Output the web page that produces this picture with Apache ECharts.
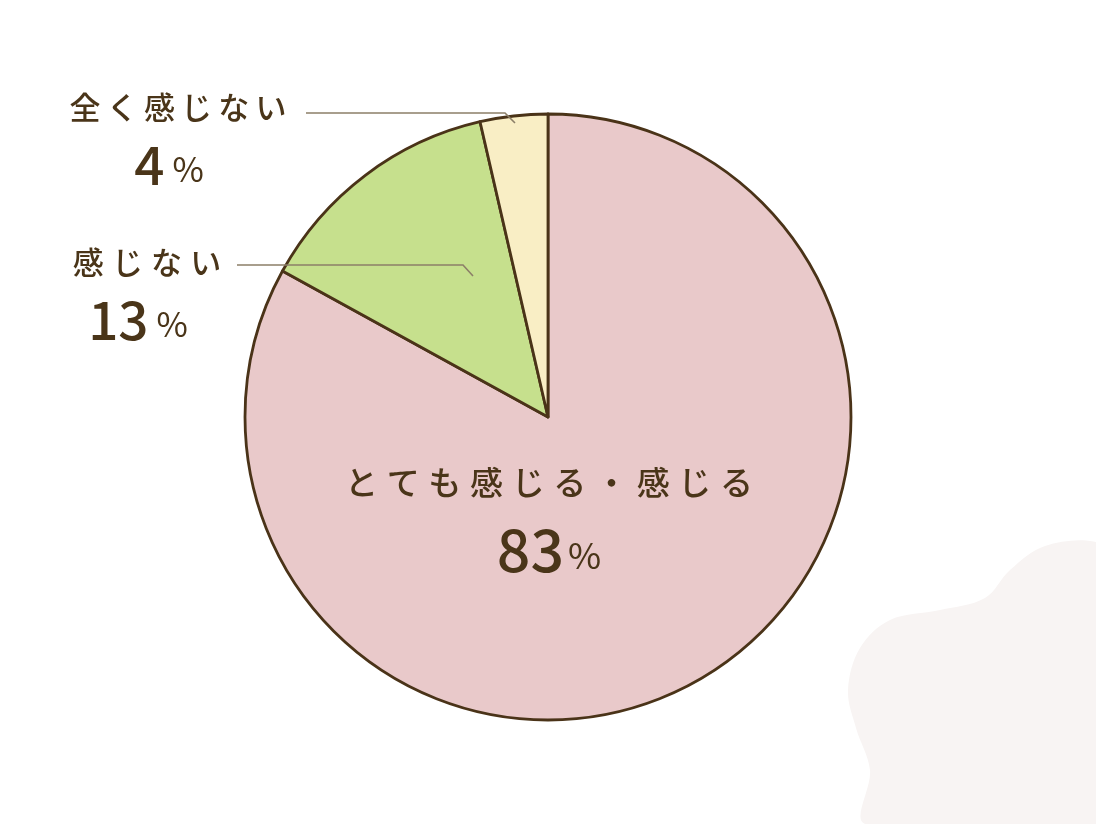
<!DOCTYPE html>
<html>
<head>
<meta charset="utf-8">
<style>
  html, body { margin: 0; padding: 0; background: #ffffff; }
  #chart { width: 1096px; height: 824px; }
</style>
<script src="https://cdn.jsdelivr.net/npm/echarts@6/dist/echarts.min.js"></script>
</head>
<body>
<div id="chart"></div>
<script>
// ---- data ----
const categories = ['とても感じる・感じる', '感じない', '全く感じない'];
const values = [83.0, 13.4, 3.6];          // slice sizes
const labelValues = [83, 13, 4];           // percentages printed on the chart
const sliceColors = ['#e9c9ca', '#c6e08d', '#f9eec5'];

// ---- style ----
const TEXT = '#4a3519';
const FONT = '"Noto Sans CJK JP", "Noto Sans", sans-serif';
const CENTER = [548, 417];
const RADIUS = 303;

const gaps = ['\u2009\u200a', '\u2009\u200a', '\u2009'];
function spaced(s, g) { return s.split('').join(g); }

// label placements (layout only)
const labelPlaces = [
  { x: 549, y: 516, line: null },
  { x: 147, y: 291, line: [[473, 276], [463, 265], [237, 265]] },
  { x: 178, y: 136, line: [[515, 123], [505, 113], [306, 113]] }
];

const chart = echarts.init(document.getElementById('chart'), null, { renderer: 'canvas' });

const sliceData = categories.map((c, i) => ({
  name: c,
  value: values[i],
  itemStyle: { color: sliceColors[i] }
}));

const labelData = categories.map((c, i) => ({
  name: c,
  value: values[i],
  label: {
    position: i === 0 ? 'inside' : 'outside',
    formatter: (i === 0 ? '{nameL|' : '{name|') + spaced(c, gaps[i]) + '}\n' +
               (i === 0 ? '{valL|' : '{val|') + labelValues[i] + '}' +
               (i === 0 ? '{pctL|%}' : '{pct|%}')
  },
  labelLine: { show: i !== 0 }
}));

const richBase = { color: TEXT, fontFamily: FONT, fontWeight: 400 };

chart.setOption({
  animation: false,
  backgroundColor: '#ffffff',
  graphic: [{
    type: 'polygon',
    z: 0,
    shape: {
      points: [
        [866, 824], [870, 770], [856, 728], [848, 690], [860, 648], [890, 620],
        [940, 610], [985, 598], [1010, 570], [1045, 546], [1096, 542],
        [1110, 560], [1110, 824]
      ],
      smooth: 0.35
    },
    style: { fill: '#f8f4f3' }
  }],
  series: [{
    type: 'pie',
    z: 2,
    center: CENTER,
    radius: [0, RADIUS],
    startAngle: 90,
    clockwise: true,
    data: sliceData,
    silent: true,
    itemStyle: { borderColor: '#4a3318', borderWidth: 2.8 },
    emphasis: { disabled: true },
    label: { show: false },
    labelLine: { show: false }
  }, {
    type: 'pie',
    z: 4,
    center: CENTER,
    radius: [0, RADIUS],
    startAngle: 90,
    clockwise: true,
    data: labelData,
    silent: true,
    itemStyle: { color: 'rgba(0,0,0,0)', borderWidth: 0 },
    emphasis: { disabled: true },
    label: {
      show: true,
      color: TEXT,
      fontFamily: FONT,
      align: 'center',
      overflow: 'none',
      rich: {
        name: Object.assign({}, richBase, { fontSize: 31, lineHeight: 58, fontWeight: 500 }),
        val: Object.assign({}, richBase, { fontSize: 53, lineHeight: 58, fontWeight: 500 }),
        pct: Object.assign({}, richBase, { fontSize: 34, lineHeight: 58, padding: [8, 18, 0, 8] }),
        nameL: Object.assign({}, richBase, { fontSize: 33, lineHeight: 68, fontWeight: 500 }),
        valL: Object.assign({}, richBase, { fontSize: 59, lineHeight: 68, fontWeight: 500 }),
        pctL: Object.assign({}, richBase, { fontSize: 36, lineHeight: 68, padding: [10, 0, 0, 4] })
      }
    },
    labelLine: {
      show: true,
      lineStyle: { color: '#8c7f68', width: 1.6 }
    },
    labelLayout: function (params) {
      const p = labelPlaces[params.dataIndex];
      const out = { x: p.x, y: p.y, align: 'center', verticalAlign: 'middle' };
      if (p.line) out.labelLinePoints = p.line;
      return out;
    }
  }]
});
</script>
</body>
</html>
